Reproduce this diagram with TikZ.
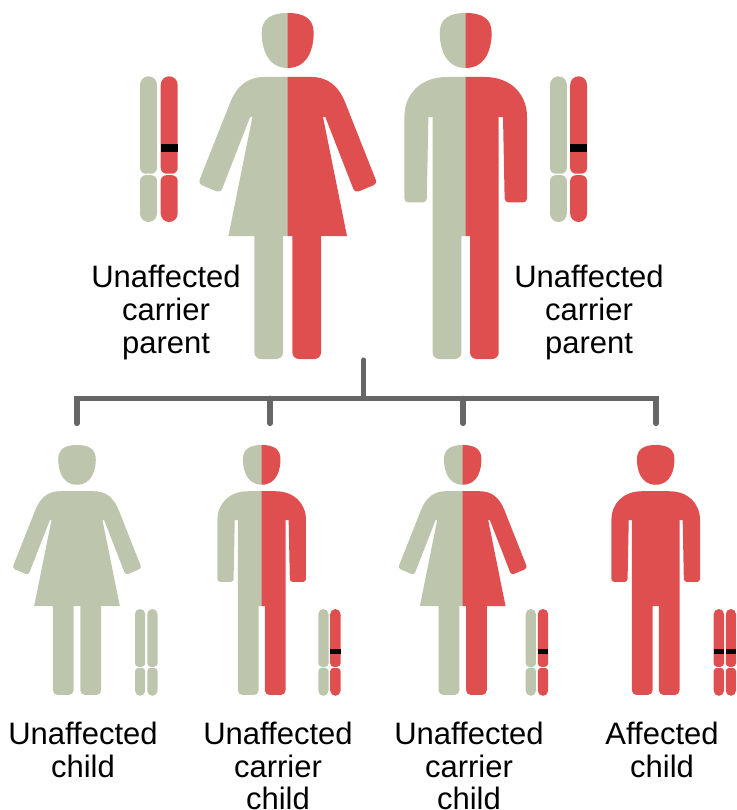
\documentclass[tikz,border=0pt]{standalone}
\usepackage{fontspec}
\setmainfont{Liberation Sans}
\definecolor{sage}{HTML}{BEC5AD}
\definecolor{rosso}{HTML}{E04F4F}
\definecolor{linkgrey}{HTML}{666666}
\tikzset{
  lbl/.style={inner sep=0pt,outer sep=0pt,align=center,anchor=north,text=black,
    font=\fontsize{31}{33}\selectfont},
  lbltight/.style={lbl,font=\fontsize{31}{32.6}\selectfont},
  link/.style={draw=linkgrey,line width=5.2pt,line cap=round,line join=miter}
}
% #1 colour, #2 axis overlap, #3 small radius, #4 foot radius
\newcommand{\headhalf}[2]{\fill[#1] (#2,0) -- (0,0) .. controls (-17,0) and (-26,6) .. (-26,20)
  .. controls (-26,32) and (-22,55) .. (0,55) -- (#2,55) -- cycle;}
\newcommand{\womanhalf}[4]{\headhalf{#1}{#2}
  \fill[#1] (#2,64) -- (-24,64) .. controls (-40,64) and (-51,73) .. (-57.7,90)
    [rounded corners=#3pt] -- (-89.6,170.6) -- (-67.2,180) [sharp corners] -- (-37.6,104) -- (-35.3,104) -- (-59.3,223) -- (-33.3,223)
    [rounded corners=#4pt] -- (-33.3,346) -- (-4.7,346) [sharp corners] -- (-4.7,223) -- (#2,223) -- cycle;}
\newcommand{\manhalf}[4]{\headhalf{#1}{#2}
  \fill[#1] (#2,64) -- (-19,64) .. controls (-44,64) and (-61.3,80) .. (-61.3,104)
    [rounded corners=#3pt] -- (-61.3,189.5) -- (-39,189.5) [sharp corners] -- (-37.3,104) -- (-33,104)
    [rounded corners=#4pt] -- (-33,223) -- (-33,346) -- (-4.3,346) [sharp corners] -- (-4.3,223) -- (#2,223) -- cycle;}
% #1 shape macro, #2 axis x, #3 top y, #4 scale, #5 left colour, #6 right colour
\newcommand{\person}[6]{%
  \pgfmathsetmacro{\smallr}{4*#4}\pgfmathsetmacro{\footr}{6.5*#4}
  \begin{scope}[shift={(#2,#3)},xscale=#4,yscale=#4]
    #1{#5}{0.5}{\smallr}{\footr}
  \end{scope}
  \begin{scope}[shift={(#2,#3)},xscale=-#4,yscale=#4]
    #1{#6}{0}{\smallr}{\footr}
  \end{scope}}
% #1 left x, #2 width, #3 top, #4 arm end, #5 arm start, #6 bottom, #7 colour
\newcommand{\chromo}[7]{%
  \pgfmathsetmacro{\xb}{#1+#2}\pgfmathsetmacro{\rr}{#2/2}\pgfmathsetmacro{\rs}{#2*0.34}
  \pgfmathsetmacro{\ya}{#3+\rr}\pgfmathsetmacro{\yb}{#4-\rs}\pgfmathsetmacro{\xc}{#1+\rs}
  \pgfmathsetmacro{\yc}{#5+\rs}\pgfmathsetmacro{\xd}{\xb-\rs}\pgfmathsetmacro{\yd}{#6-\rr}
  \fill[#7] (#1,\ya) arc[start angle=180,end angle=360,radius=\rr] -- (\xb,\yb)
     arc[start angle=0,end angle=90,radius=\rs] -- (\xc,#4)
     arc[start angle=90,end angle=180,radius=\rs] -- cycle;
  \fill[#7] (#1,\yc) arc[start angle=180,end angle=270,radius=\rs] -- (\xd,#5)
     arc[start angle=270,end angle=360,radius=\rs] -- (\xb,\yd)
     arc[start angle=0,end angle=180,radius=\rr] -- cycle;}
\begin{document}
\begin{tikzpicture}[x=1pt,y=-1pt]
\useasboundingbox (0,0) rectangle (736,810);
% parents
\person{\womanhalf}{287.7}{13}{1}{sage}{rosso}
\person{\manhalf}{465.7}{13}{1}{sage}{rosso}
% children
\person{\womanhalf}{77}{445}{.7225}{sage}{sage}
\person{\manhalf}{261.7}{445}{.7225}{sage}{rosso}
\person{\womanhalf}{462.7}{445}{.7225}{sage}{rosso}
\person{\manhalf}{655.7}{445}{.7225}{rosso}{rosso}
% chromosomes, parents
\chromo{140}{17}{76.3}{173.7}{175.2}{222}{sage}
\chromo{160.7}{17}{76.3}{173.7}{175.2}{222}{rosso}
\fill[black] (160.7,144.3) rectangle (177.7,151.7);
\chromo{550}{16.8}{76.3}{173.7}{175.2}{222}{sage}
\chromo{570.2}{16.8}{76.3}{173.7}{175.2}{222}{rosso}
\fill[black] (570.2,144.3) rectangle (587,151.7);
% chromosomes, children
\chromo{135}{10.2}{609}{666.8}{667.8}{695.8}{sage}
\chromo{147.3}{10.2}{609}{666.8}{667.8}{695.8}{sage}
\chromo{318.3}{10.2}{609}{666.8}{667.8}{695.8}{sage}
\chromo{330.2}{10.4}{609}{666.8}{667.8}{695.8}{rosso}
\fill[black] (330.2,649.3) rectangle (340.6,653.5);
\chromo{525.7}{10.2}{609}{666.8}{667.8}{695.8}{sage}
\chromo{537.8}{10.4}{609}{666.8}{667.8}{695.8}{rosso}
\fill[black] (537.8,649.3) rectangle (548.2,653.5);
\chromo{713.7}{10.3}{609}{666.8}{667.8}{695.8}{rosso}
\chromo{725.8}{10.2}{609}{666.8}{667.8}{695.8}{rosso}
\fill[black] (713.7,649.3) rectangle (724,653.5);
\fill[black] (725.8,649.3) rectangle (736,653.5);
% connector
\coordinate (stem) at (363.7,360);
\coordinate (bar) at (363.7,398.3);
\coordinate (barL) at (77,398.3);
\coordinate (barR) at (656,398.3);
\coordinate (tick1) at (77,423.5);
\coordinate (tick2) at (270,423.5);
\coordinate (tick3) at (463,423.5);
\coordinate (tick4) at (656,423.5);
\coordinate (top2) at (270,398.3);
\coordinate (top3) at (463,398.3);
\draw[link] (stem) -- (bar);
\draw[link] (tick1) -- (barL) -- (barR) -- (tick4);
\draw[link] (top2) -- (tick2);
\draw[link] (top3) -- (tick3);
% labels
\node[lbl] (pL) at (166,265.5) {Unaffected\\carrier\\parent};
\node[lbl] (pR) at (589,265.5) {Unaffected\\carrier\\parent};
\node[lbl] (c1) at (83,722.2) {Unaffected\\child};
\node[lbltight] (c2) at (278,722.2) {Unaffected\\carrier\\child};
\node[lbltight] (c3) at (469,722.2) {Unaffected\\carrier\\child};
\node[lbl] (c4) at (662,722.2) {Affected\\child};
\end{tikzpicture}
\end{document}
